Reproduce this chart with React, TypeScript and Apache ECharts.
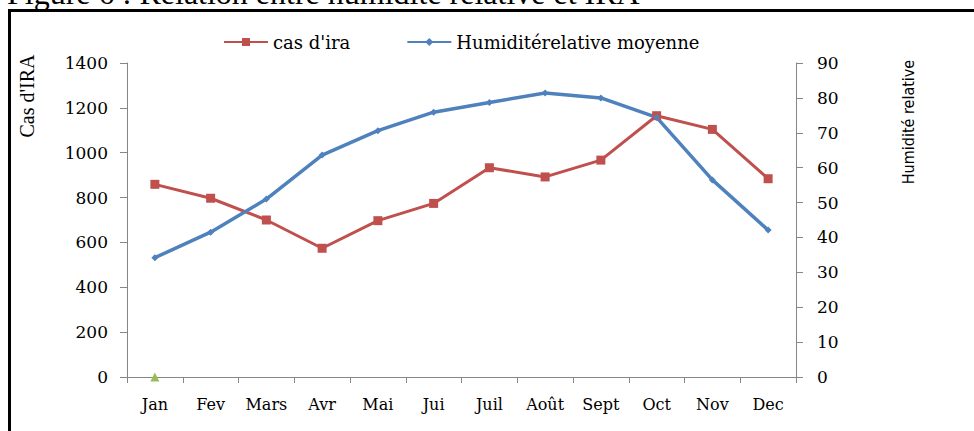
import React, { useEffect, useRef } from "react";
import * as echarts from "echarts";

const months = ["Jan", "Fev", "Mars", "Avr", "Mai", "Jui", "Juil", "Août", "Sept", "Oct", "Nov", "Dec"];
const casIra = [859, 797, 700, 574, 697, 774, 933, 892, 967, 1165, 1104, 884];
const humidite = [34.2, 41.5, 51.0, 63.6, 70.6, 75.9, 78.7, 81.4, 80.0, 74.4, 56.5, 42.1];
const thirdSeries = [0, null, null, null, null, null, null, null, null, null, null, null];
const leftTicks = { min: 0, max: 1400, interval: 200 };
const rightTicks = { min: 0, max: 90, interval: 10 };

const SERIF = "Liberation Serif";
const WIDE_SERIF = "DejaVu Serif";
const NARROW = "DejaVu Sans Condensed, DejaVu Sans, sans-serif";
const AXIS_GREY = "#868686";

export default function App() {
  const ref = useRef<HTMLDivElement>(null);
  useEffect(() => {
    if (!ref.current) return;
    const chart = echarts.init(ref.current, null, { renderer: "svg" });
    chart.setOption({
      animation: false,
      backgroundColor: "#ffffff",
      grid: { left: 127, right: 178, top: 63, bottom: 54, containLabel: false },
      legend: {
        data: ["cas d'ira", "Humiditérelative moyenne"],
        left: 218,
        top: 28,
        itemWidth: 44,
        itemHeight: 10,
        itemGap: 56,
        textStyle: { fontFamily: WIDE_SERIF, fontSize: 18, color: "#000" },
      },
      xAxis: {
        type: "category",
        data: months,
        boundaryGap: true,
        axisLine: { lineStyle: { color: AXIS_GREY, width: 1 } },
        axisTick: { show: true, alignWithLabel: false, length: 6, lineStyle: { color: AXIS_GREY } },
        axisLabel: { fontFamily: WIDE_SERIF, fontSize: 16, color: "#000", margin: 19 },
        splitLine: { show: false },
      },
      yAxis: [
        {
          type: "value",
          min: leftTicks.min,
          max: leftTicks.max,
          interval: leftTicks.interval,
          axisLine: { show: true, lineStyle: { color: AXIS_GREY, width: 1 } },
          axisTick: { show: true, length: 7, lineStyle: { color: AXIS_GREY } },
          axisLabel: {
            fontFamily: WIDE_SERIF,
            fontSize: 17,
            color: "#000",
            margin: 19,
            formatter: (v: number) => String(v),
          },
          splitLine: { show: false },
        },
        {
          type: "value",
          min: rightTicks.min,
          max: rightTicks.max,
          interval: rightTicks.interval,
          position: "right",
          axisLine: { show: true, lineStyle: { color: AXIS_GREY, width: 1 } },
          axisTick: { show: true, length: 7, lineStyle: { color: AXIS_GREY } },
          axisLabel: {
            fontFamily: WIDE_SERIF,
            fontSize: 17,
            color: "#000",
            margin: 21,
            formatter: (v: number) => String(v),
          },
          splitLine: { show: false },
        },
      ],
      series: [
        {
          name: "cas d'ira",
          type: "line",
          yAxisIndex: 0,
          data: casIra,
          symbol: "rect",
          symbolSize: 9,
          lineStyle: { color: "#C0504D", width: 3 },
          itemStyle: { color: "#C0504D" },
        },
        {
          name: "Humiditérelative moyenne",
          type: "line",
          yAxisIndex: 1,
          data: humidite,
          symbol: "diamond",
          symbolSize: 7,
          lineStyle: { color: "#4F81BD", width: 3.5 },
          itemStyle: { color: "#4F81BD" },
        },
        {
          name: "serie3",
          type: "line",
          yAxisIndex: 0,
          data: thirdSeries,
          symbol: "triangle",
          symbolSize: 9,
          showSymbol: true,
          lineStyle: { width: 0 },
          itemStyle: { color: "#9BBB59" },
        },
      ],
      graphic: [
        {
          type: "text",
          x: 7,
          y: 9,
          style: {
            text: "Figure 6 : Relation entre humidité relative et IRA",
            fontFamily: SERIF,
            fontSize: 32,
            fill: "#000",
            verticalAlign: "bottom",
          },
        },
        {
          type: "rect",
          shape: { x: 9.5, y: 10.5, width: 1100, height: 600 },
          style: { fill: "none", stroke: "#000", lineWidth: 3 },
          silent: true,
        },
        {
          type: "text",
          x: 27,
          y: 96,
          rotation: Math.PI / 2,
          style: {
            text: "Cas d'IRA",
            fontFamily: SERIF,
            fontSize: 20,
            fill: "#000",
            align: "center",
            verticalAlign: "middle",
          },
        },
        {
          type: "text",
          x: 908,
          y: 122,
          rotation: Math.PI / 2,
          style: {
            text: "Humidité relative",
            fontFamily: NARROW,
            fontSize: 16,
            fill: "#000",
            align: "center",
            verticalAlign: "middle",
          },
        },
      ],
    });
    return () => chart.dispose();
  }, []);
  return (
    <div
      ref={ref}
      style={{ position: "fixed", left: 0, top: 0, width: 974, height: 431 }}
    />
  );
}
